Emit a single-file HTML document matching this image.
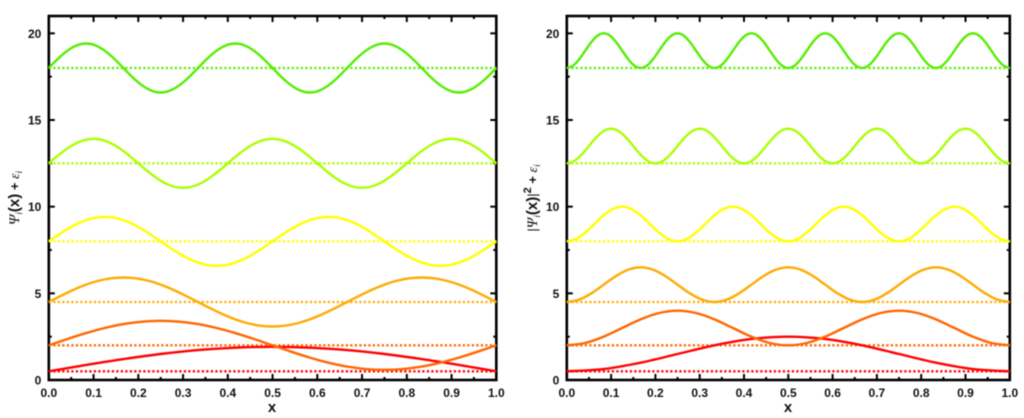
<!DOCTYPE html>
<html>
<head>
<meta charset="utf-8">
<style>
html,body{margin:0;padding:0;background:#fff;width:1024px;height:418px;overflow:hidden}
svg{display:block;filter:blur(0.4px)}
text{font-family:"Liberation Sans",sans-serif;font-weight:bold;fill:#111}
.sym{font-family:"Liberation Serif",serif;font-weight:normal;font-style:italic}
</style>
</head>
<body>
<svg id="chart" xmlns="http://www.w3.org/2000/svg" width="1024" height="418" viewBox="0 0 1024 418">
  <text transform="translate(19,198) rotate(-90)" text-anchor="middle" font-size="13"><tspan class="sym" font-size="15">Ψ</tspan><tspan class="sym" font-size="9" dy="3">i</tspan><tspan dy="-3" font-size="15">(x)</tspan><tspan> + </tspan><tspan class="sym" font-size="14">ε</tspan><tspan class="sym" font-size="9" dy="3">i</tspan></text>
  <text x="272" y="412" text-anchor="middle" font-size="15">x</text>
  <text transform="translate(537,198) rotate(-90)" text-anchor="middle" font-size="13"><tspan font-weight="normal">|</tspan><tspan class="sym" font-size="15">Ψ</tspan><tspan class="sym" font-size="9" dy="3">i</tspan><tspan dy="-3" font-size="15">(x)</tspan><tspan font-weight="normal">|</tspan><tspan font-size="11" dy="-6">2</tspan><tspan dy="6"> + </tspan><tspan class="sym" font-size="14">ε</tspan><tspan class="sym" font-size="9" dy="3">i</tspan></text>
  <text x="788" y="412" text-anchor="middle" font-size="15">x</text>
</svg>
<script>
const xTicks = ["0.0","0.1","0.2","0.3","0.4","0.5","0.6","0.7","0.8","0.9","1.0"];
const xMinorTicks = [0.05,0.15,0.25,0.35,0.45,0.55,0.65,0.75,0.85,0.95];
const yTicks = [0,5,10,15,20];
const yMinorTicks = [2.5,7.5,12.5,17.5];
const energies = [0.5,2,4.5,8,12.5,18];
const colors = ["#ff0000","#ff6600","#ffaa00","#ffff00","#aaff00","#55ee00"];

const psi1 = [0.5,0.866,1.207,1.5,1.725,1.866,1.914,1.866,1.725,1.5,1.207,0.866,0.5];
const psi2 = [2,2.366,2.707,3,3.225,3.366,3.414,3.366,3.225,3,2.707,2.366,
  2,1.634,1.293,1,0.775,0.634,0.586,0.634,0.775,1,1.293,1.634,2];
const psi3 = [4.5,4.866,5.207,5.5,5.725,5.866,5.914,5.866,5.725,5.5,5.207,4.866,
  4.5,4.134,3.793,3.5,3.275,3.134,3.086,3.134,3.275,3.5,3.793,4.134,
  4.5,4.866,5.207,5.5,5.725,5.866,5.914,5.866,5.725,5.5,5.207,4.866,4.5];
const psi4 = [8,8.366,8.707,9,9.225,9.366,9.414,9.366,9.225,9,8.707,8.366,
  8,7.634,7.293,7,6.775,6.634,6.586,6.634,6.775,7,7.293,7.634,
  8,8.366,8.707,9,9.225,9.366,9.414,9.366,9.225,9,8.707,8.366,
  8,7.634,7.293,7,6.775,6.634,6.586,6.634,6.775,7,7.293,7.634,8];
const psi5 = [12.5,12.866,13.207,13.5,13.725,13.866,13.914,13.866,13.725,13.5,13.207,12.866,
  12.5,12.134,11.793,11.5,11.275,11.134,11.086,11.134,11.275,11.5,11.793,12.134,
  12.5,12.866,13.207,13.5,13.725,13.866,13.914,13.866,13.725,13.5,13.207,12.866,
  12.5,12.134,11.793,11.5,11.275,11.134,11.086,11.134,11.275,11.5,11.793,12.134,
  12.5,12.866,13.207,13.5,13.725,13.866,13.914,13.866,13.725,13.5,13.207,12.866,12.5];
const psi6 = [18,18.366,18.707,19,19.225,19.366,19.414,19.366,19.225,19,18.707,18.366,
  18,17.634,17.293,17,16.775,16.634,16.586,16.634,16.775,17,17.293,17.634,
  18,18.366,18.707,19,19.225,19.366,19.414,19.366,19.225,19,18.707,18.366,
  18,17.634,17.293,17,16.775,16.634,16.586,16.634,16.775,17,17.293,17.634,
  18,18.366,18.707,19,19.225,19.366,19.414,19.366,19.225,19,18.707,18.366,
  18,17.634,17.293,17,16.775,16.634,16.586,16.634,16.775,17,17.293,17.634,18];

const prob1 = [0.5,0.634,1,1.5,2,2.366,2.5,2.366,2,1.5,1,0.634,0.5];
const prob2 = [2,2.134,2.5,3,3.5,3.866,4,3.866,3.5,3,2.5,2.134,
  2,2.134,2.5,3,3.5,3.866,4,3.866,3.5,3,2.5,2.134,2];
const prob3 = [4.5,4.634,5,5.5,6,6.366,6.5,6.366,6,5.5,5,4.634,
  4.5,4.634,5,5.5,6,6.366,6.5,6.366,6,5.5,5,4.634,
  4.5,4.634,5,5.5,6,6.366,6.5,6.366,6,5.5,5,4.634,4.5];
const prob4 = [8,8.134,8.5,9,9.5,9.866,10,9.866,9.5,9,8.5,8.134,
  8,8.134,8.5,9,9.5,9.866,10,9.866,9.5,9,8.5,8.134,
  8,8.134,8.5,9,9.5,9.866,10,9.866,9.5,9,8.5,8.134,
  8,8.134,8.5,9,9.5,9.866,10,9.866,9.5,9,8.5,8.134,8];
const prob5 = [12.5,12.634,13,13.5,14,14.366,14.5,14.366,14,13.5,13,12.634,
  12.5,12.634,13,13.5,14,14.366,14.5,14.366,14,13.5,13,12.634,
  12.5,12.634,13,13.5,14,14.366,14.5,14.366,14,13.5,13,12.634,
  12.5,12.634,13,13.5,14,14.366,14.5,14.366,14,13.5,13,12.634,
  12.5,12.634,13,13.5,14,14.366,14.5,14.366,14,13.5,13,12.634,12.5];
const prob6 = [18,18.134,18.5,19,19.5,19.866,20,19.866,19.5,19,18.5,18.134,
  18,18.134,18.5,19,19.5,19.866,20,19.866,19.5,19,18.5,18.134,
  18,18.134,18.5,19,19.5,19.866,20,19.866,19.5,19,18.5,18.134,
  18,18.134,18.5,19,19.5,19.866,20,19.866,19.5,19,18.5,18.134,
  18,18.134,18.5,19,19.5,19.866,20,19.866,19.5,19,18.5,18.134,
  18,18.134,18.5,19,19.5,19.866,20,19.866,19.5,19,18.5,18.134,18];

const leftSeries = [psi1,psi2,psi3,psi4,psi5,psi6];
const rightSeries = [prob1,prob2,prob3,prob4,prob5,prob6];

const NS = "http://www.w3.org/2000/svg";
const svg = document.getElementById("chart");
const Y_MAX = 21;
const TOP = 16, BOTTOM = 380;
const yScale = v => BOTTOM - (v / Y_MAX) * (BOTTOM - TOP);

function mk(tag, attrs, parent) {
  const el = document.createElementNS(NS, tag);
  for (const k in attrs) el.setAttribute(k, attrs[k]);
  (parent || svg).appendChild(el);
  return el;
}

function smoothPath(pts) {
  let d = "M" + pts[0][0].toFixed(2) + " " + pts[0][1].toFixed(2);
  for (let i = 0; i < pts.length - 1; i++) {
    const p0 = pts[Math.max(i - 1, 0)], p1 = pts[i], p2 = pts[i + 1], p3 = pts[Math.min(i + 2, pts.length - 1)];
    const c1x = p1[0] + (p2[0] - p0[0]) / 6, c1y = p1[1] + (p2[1] - p0[1]) / 6;
    const c2x = p2[0] - (p3[0] - p1[0]) / 6, c2y = p2[1] - (p3[1] - p1[1]) / 6;
    d += "C" + c1x.toFixed(2) + " " + c1y.toFixed(2) + " " + c2x.toFixed(2) + " " + c2y.toFixed(2) + " " + p2[0].toFixed(2) + " " + p2[1].toFixed(2);
  }
  return d;
}

function drawPanel(prefix, x0, x1, series) {
  const xScale = v => x0 + v * (x1 - x0);
  const g = mk("g", {});
  
  

  const tickAttrs = {stroke: "#000", "stroke-width": 2};
  function xTick(v, len, kind) {
    const x = xScale(v);
    const bottom = mk("line", Object.assign({x1: x, x2: x, y1: BOTTOM, y2: BOTTOM - len}, tickAttrs), g);
    
    
    const top = mk("line", Object.assign({x1: x, x2: x, y1: TOP, y2: TOP + len}, tickAttrs), g);
    
    
  }
  function yTick(v, len, kind) {
    const y = yScale(v);
    const left = mk("line", Object.assign({x1: x0, x2: x0 + len, y1: y, y2: y}, tickAttrs), g);
    
    
    const right = mk("line", Object.assign({x1: x1, x2: x1 - len, y1: y, y2: y}, tickAttrs), g);
    
    
  }
  xTicks.forEach(t => xTick(parseFloat(t), 6, 'major'));
  xMinorTicks.forEach(t => xTick(t, 3, 'minor'));
  yTicks.forEach(t => yTick(t, 6, 'major'));
  yMinorTicks.forEach(t => yTick(t, 3, 'minor'));

  const frame = mk("rect", {x: x0, y: TOP, width: x1 - x0, height: BOTTOM - TOP, fill: "none", stroke: "#000", "stroke-width": 2.6}, g);
  
  

  energies.forEach((e, i) => {
    const level = mk("line", {x1: x0, x2: x1, y1: yScale(e), y2: yScale(e), stroke: colors[i], "stroke-width": 2.3, "stroke-dasharray": "2.2 2.3"}, g);
    
    
  });

  series.forEach((vals, i) => {
    const pts = vals.map((v, k) => [xScale(k / (vals.length - 1)), yScale(v)]);
    const curve = mk("path", {d: smoothPath(pts), fill: "none", stroke: colors[i], "stroke-width": 2.4, "stroke-linejoin": "round"}, g);
    
    
  });

  xTicks.forEach(t => {
    const lab = mk("text", {x: xScale(parseFloat(t)), y: 397, "text-anchor": "middle", "font-size": 12}, g);
    lab.textContent = t;
    
    
  });
  yTicks.forEach(t => {
    const lab = mk("text", {x: x0 - 7.5, y: yScale(t) + 4.5, "text-anchor": "end", "font-size": 12}, g);
    lab.textContent = String(t);
    
    
  });
}

drawPanel('left', 48.8, 496.3, leftSeries);
drawPanel('right', 566.8, 1009.8, rightSeries);
</script>
</body>
</html>
